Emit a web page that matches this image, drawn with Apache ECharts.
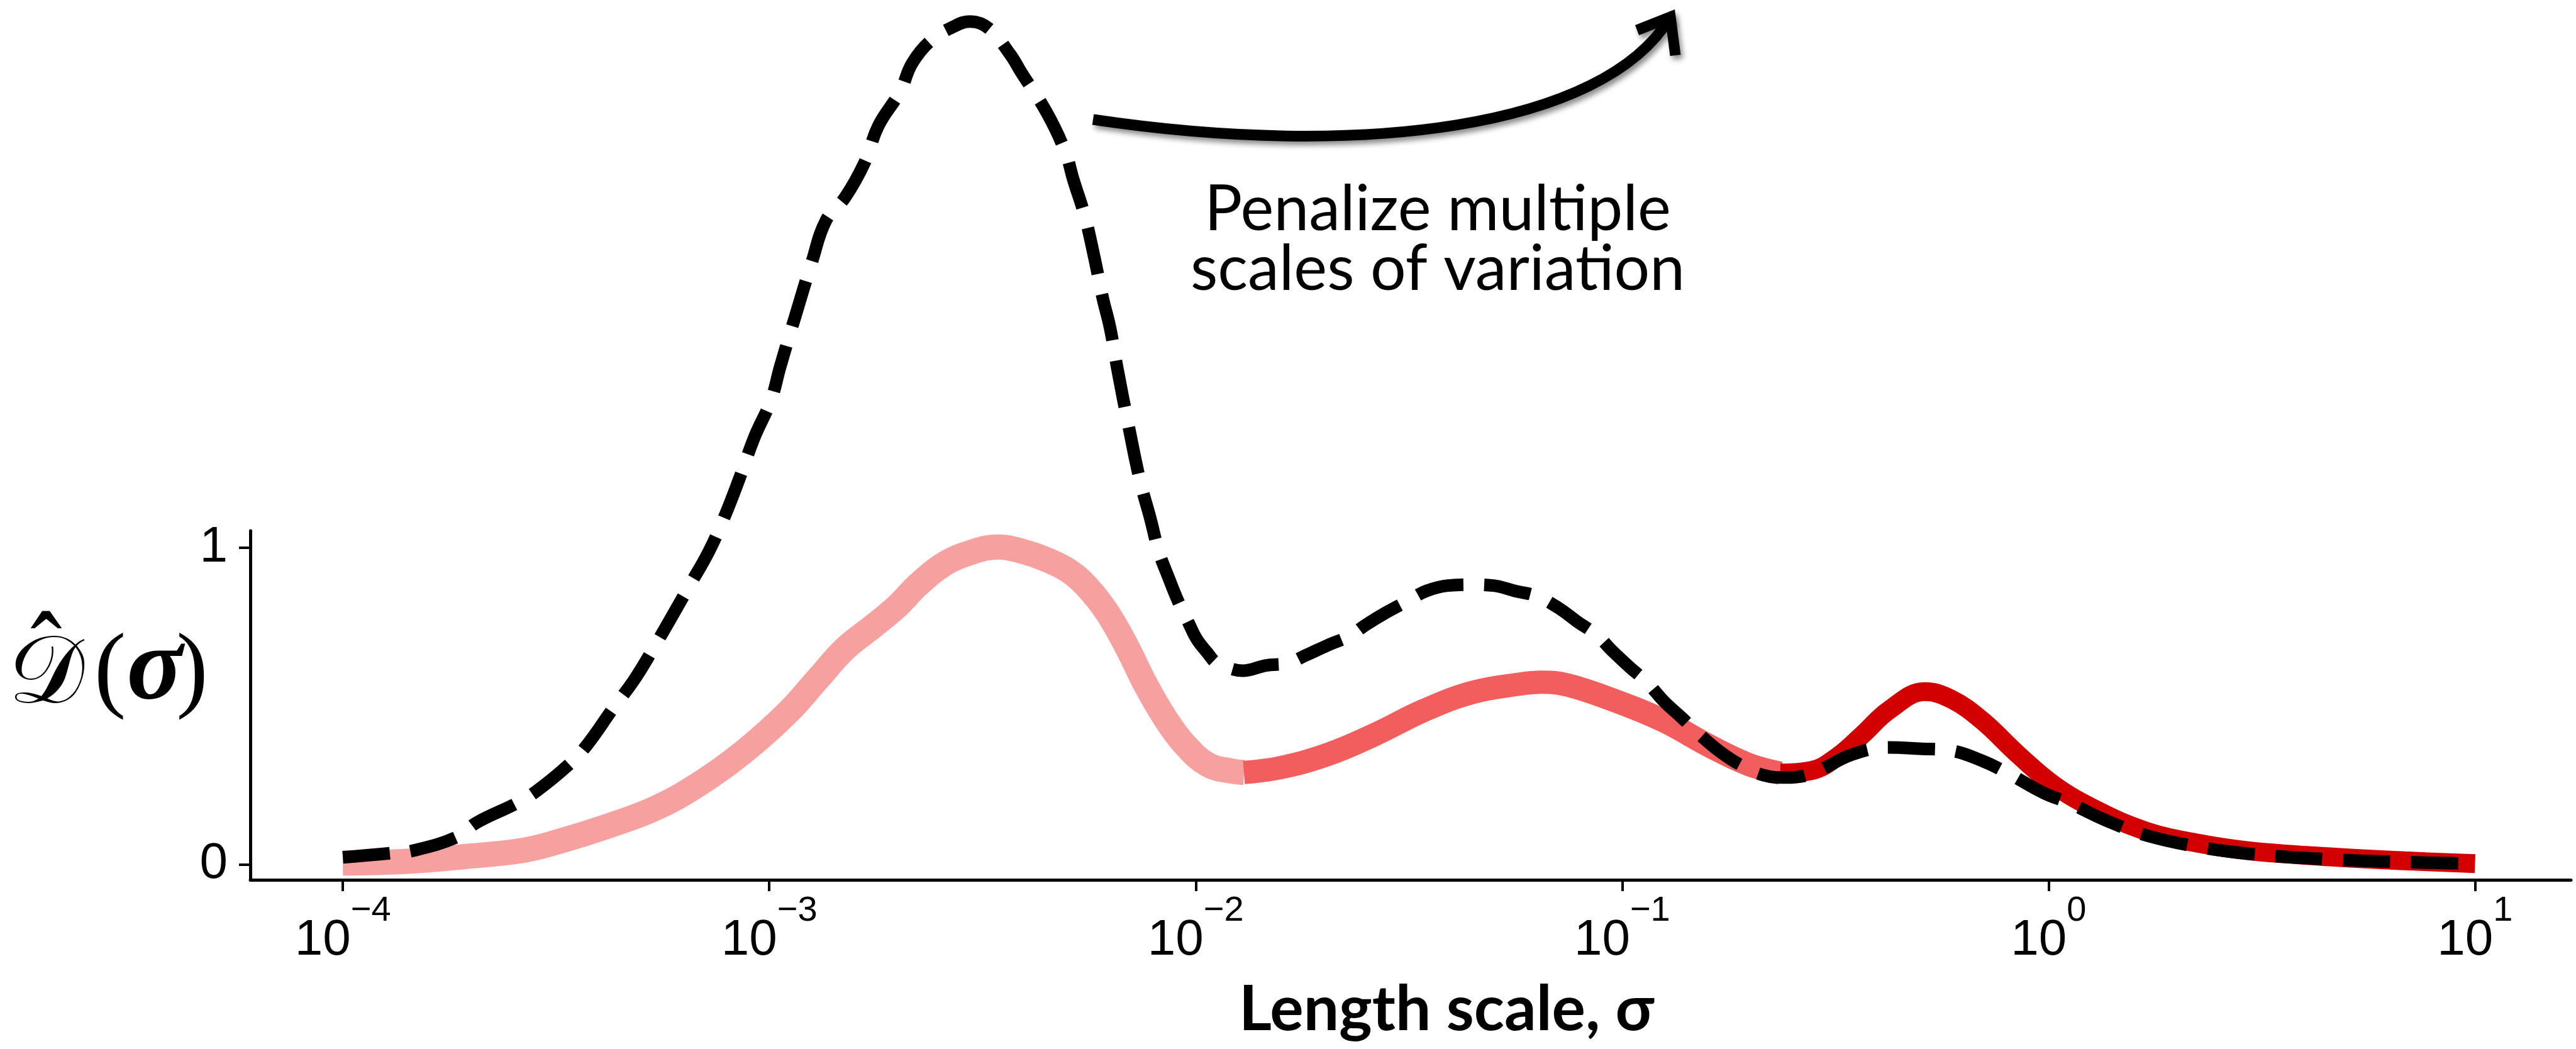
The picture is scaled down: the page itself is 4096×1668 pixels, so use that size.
<!DOCTYPE html>
<html>
<head>
<meta charset="utf-8">
<script src="https://cdn.jsdelivr.net/npm/echarts@6/dist/echarts.min.js"></script>
<style>html,body{margin:0;padding:0;background:#fff}#c{width:4096px;height:1668px}</style>
</head>
<body>
<div id="c"></div>
<script>
// ---- data (x given as log10 of sigma) ----
const xTickExponents = [-4, -3, -2, -1, 0, 1];
const yTickValues = [0, 1];

const blackLogSigma = [-4.0,-3.89,-3.833,-3.733,-3.687,-3.592,-3.547,-3.474,-3.429,-3.367,-3.317,-3.272,-3.226,-3.187,-3.142,-3.103,-3.069,-3.035,-2.996,-2.974,-2.94,-2.901,-2.867,-2.822,-2.777,-2.744,-2.693,-2.665,-2.62,-2.563,-2.529,-2.485,-2.435,-2.409,-2.35,-2.306,-2.287,-2.26,-2.238,-2.218,-2.201,-2.184,-2.157,-2.13,-2.107,-2.086,-2.063,-2.041,-2.018,-1.998,-1.974,-1.951,-1.917,-1.89,-1.835,-1.785,-1.74,-1.69,-1.639,-1.6,-1.555,-1.505,-1.459,-1.409,-1.353,-1.302,-1.251,-1.201,-1.15,-1.105,-1.06,-1.021,-0.982,-0.942,-0.903,-0.858,-0.813,-0.769,-0.723,-0.667,-0.617,-0.556,-0.46,-0.374,-0.302,-0.229,-0.156,-0.096,-0.011,0.049,0.134,0.23,0.352,0.473,0.654,0.836,1.0];
const blackValues = [0.022,0.035,0.044,0.086,0.131,0.193,0.23,0.31,0.374,0.491,0.582,0.681,0.788,0.88,0.987,1.104,1.222,1.348,1.465,1.573,1.726,1.898,2.033,2.106,2.214,2.332,2.44,2.529,2.602,2.648,2.661,2.639,2.557,2.5,2.375,2.25,2.162,2.046,1.918,1.788,1.695,1.567,1.381,1.208,1.095,0.985,0.903,0.83,0.766,0.712,0.67,0.635,0.617,0.611,0.628,0.635,0.661,0.692,0.721,0.757,0.794,0.83,0.863,0.88,0.883,0.88,0.863,0.847,0.81,0.766,0.724,0.671,0.622,0.575,0.516,0.46,0.403,0.354,0.314,0.281,0.274,0.286,0.347,0.369,0.365,0.359,0.327,0.288,0.225,0.193,0.139,0.091,0.055,0.033,0.016,0.007,0.002];

const pinkLogSigma = [-4.0,-3.855,-3.717,-3.578,-3.496,-3.371,-3.267,-3.164,-3.059,-2.956,-2.887,-2.822,-2.754,-2.699,-2.653,-2.597,-2.542,-2.463,-2.406,-2.35,-2.296,-2.252,-2.207,-2.162,-2.117,-2.071,-2.027,-1.971,-1.914,-1.887];
const pinkValues = [0.004,0.009,0.024,0.044,0.071,0.124,0.177,0.254,0.356,0.48,0.584,0.681,0.754,0.816,0.88,0.942,0.978,1.002,0.988,0.962,0.925,0.872,0.794,0.688,0.566,0.46,0.38,0.314,0.294,0.29];

const salmonLogSigma = [-1.887,-1.802,-1.69,-1.578,-1.466,-1.353,-1.24,-1.189,-1.128,-1.016,-0.903,-0.79,-0.701,-0.629];
const salmonValues = [0.29,0.305,0.347,0.411,0.485,0.542,0.569,0.575,0.566,0.516,0.453,0.37,0.314,0.288];

const redLogSigma = [-0.629,-0.556,-0.495,-0.435,-0.374,-0.29,-0.229,-0.156,-0.072,0.013,0.11,0.23,0.352,0.473,0.654,0.836,1.0];
const redValues = [0.288,0.296,0.34,0.411,0.487,0.545,0.522,0.454,0.347,0.25,0.173,0.104,0.066,0.042,0.024,0.011,0.002];

const annotationLines = ['Penalize multiple', 'scales of variation'];
const yLabelParts = ['\ud835\udc9f', '(', '\u03c3', ')'];

function toData(logs, vals) { return logs.map((e, i) => [Math.pow(10, e), vals[i]]); }

const chart = echarts.init(document.getElementById('c'), null, {renderer: 'canvas'});

const arrowShadow = {shadowBlur: 8, shadowColor: 'rgba(0,0,0,0.45)', shadowOffsetX: 4, shadowOffsetY: 6};

const option = {
  animation: false,
  backgroundColor: '#ffffff',
  grid: {left: 398, right: 8, top: 844, bottom: 269, outerBoundsMode: 'none', containLabel: false},
  xAxis: {
    type: 'log', logBase: 10,
    min: Math.pow(10, -4.217), max: Math.pow(10, 1.225),
    axisLine: {show: true, onZero: false, lineStyle: {color: '#000', width: 5}},
    axisTick: {show: true, customValues: xTickExponents.map(e => Math.pow(10, e)), length: 18, inside: false, lineStyle: {color: '#000', width: 4}},
    minorTick: {show: false},
    splitLine: {show: false},
    axisLabel: {
      show: true,
      customValues: xTickExponents.map(e => Math.pow(10, e)),
      margin: 22,
      lineHeight: 115,
      formatter: function (v) {
        const e = Math.round(Math.log10(v));
        return '{b|10}{s|' + String(e).replace('-', '\u2212') + '}';
      },
      rich: {
        b: {fontSize: 80, fontFamily: 'Liberation Sans', color: '#000', verticalAlign: 'bottom'},
        s: {fontSize: 56, fontFamily: 'Liberation Sans', color: '#000', verticalAlign: 'top'}
      }
    },
    name: 'Length scale, \u03c3',
    nameLocation: 'middle',
    nameGap: 157,
    nameTextStyle: {fontSize: 100, fontWeight: 'bold', fontFamily: 'Lato', color: '#000', padding: [0, 0, 0, 114]}
  },
  yAxis: {
    type: 'value',
    min: -0.049, max: 1.053,
    axisLine: {show: true, onZero: false, lineStyle: {color: '#000', width: 5}},
    axisTick: {show: true, customValues: yTickValues, length: 18, lineStyle: {color: '#000', width: 4}},
    splitLine: {show: false},
    axisLabel: {show: true, customValues: yTickValues, fontSize: 80, fontFamily: 'Liberation Sans', color: '#000', margin: 36}
  },
  series: [
    {type: 'line', data: toData(pinkLogSigma, pinkValues), symbol: 'none', smooth: 0.4, clip: false, silent: true, z: 2,
     lineStyle: {color: '#F6A0A0', width: 40, cap: 'butt'}},
    {type: 'line', data: toData(salmonLogSigma, salmonValues), symbol: 'none', smooth: 0.4, clip: false, silent: true, z: 3,
     lineStyle: {color: '#F25E5E', width: 37, cap: 'butt'}},
    {type: 'line', data: toData(redLogSigma, redValues), symbol: 'none', smooth: 0.4, clip: false, silent: true, z: 4,
     lineStyle: {color: '#D20000', width: 30, cap: 'butt'}},
    {type: 'line', data: toData(blackLogSigma, blackValues), symbol: 'none', smooth: 0.4, clip: false, silent: true, z: 5,
     lineStyle: {color: '#000000', width: 20, type: [75, 33], cap: 'butt'}}
  ],
  graphic: [
    // y-axis label  D-hat(sigma)
    {type: 'text', x: 73.5, y: 1078, silent: true,
     style: {text: yLabelParts[0], fontSize: 152, fontFamily: 'DejaVu Serif', fill: '#000', align: 'center', verticalAlign: 'middle'}},
    {type: 'polygon', silent: true,
     shape: {points: [[48.7, 999], [67.1, 971.5], [79, 971.5], [98.3, 999], [91.9, 999], [73.5, 984], [55.1, 999]]},
     style: {fill: '#000'}},
    {type: 'text', x: 175, y: 1072, silent: true,
     style: {text: yLabelParts[1], fontSize: 152, fontFamily: 'Liberation Serif', fill: '#000', align: 'center', verticalAlign: 'middle'}},
    {type: 'text', x: 246, y: 1067, silent: true,
     style: {text: yLabelParts[2], fontSize: 165, fontFamily: 'Liberation Serif', fontStyle: 'italic', fontWeight: 'bold', fill: '#000', align: 'center', verticalAlign: 'middle'}},
    {type: 'text', x: 305.5, y: 1072, silent: true,
     style: {text: yLabelParts[3], fontSize: 152, fontFamily: 'Liberation Serif', fill: '#000', align: 'center', verticalAlign: 'middle'}},
    // annotation
    {type: 'text', x: 2286, y: 334, silent: true,
     style: {text: annotationLines[0], fontSize: 100, fontWeight: 400, fontFamily: 'Lato', fill: '#000', align: 'center', verticalAlign: 'middle'}},
    {type: 'text', x: 2286, y: 429, silent: true,
     style: {text: annotationLines[1], fontSize: 100, fontWeight: 400, fontFamily: 'Lato', fill: '#000', align: 'center', verticalAlign: 'middle'}},
    {type: 'bezierCurve', silent: true,
     shape: {x1: 1738, y1: 190, cpx1: 2160, cpy1: 253, cpx2: 2550, cpy2: 205, x2: 2656, y2: 27},
     style: Object.assign({stroke: '#000', lineWidth: 17, fill: null, lineCap: 'butt'}, arrowShadow)},
    {type: 'polyline', silent: true,
     shape: {points: [[2603, 48], [2656, 27], [2664, 88]]},
     style: Object.assign({stroke: '#000', lineWidth: 17, fill: null, lineJoin: 'miter', lineCap: 'butt'}, arrowShadow)}
  ]
};
chart.setOption(option);
</script>
</body>
</html>
